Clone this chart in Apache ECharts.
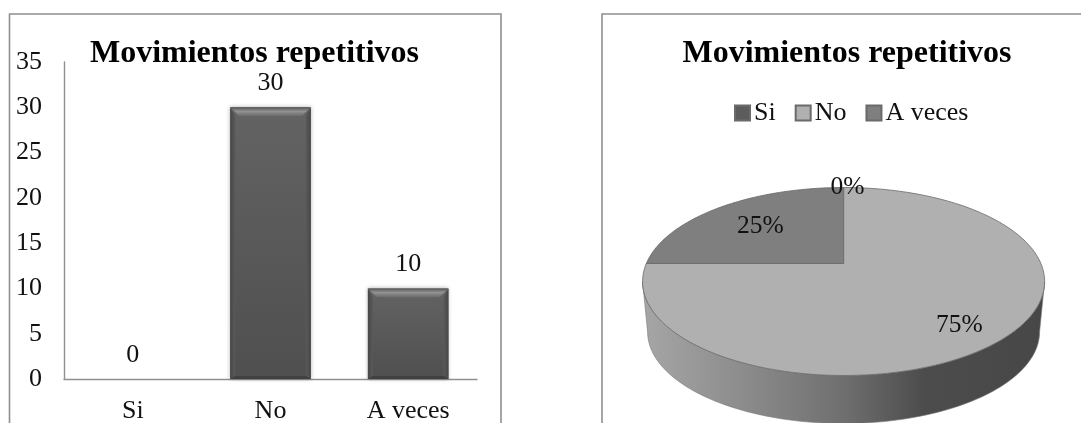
<!DOCTYPE html>
<html>
<head>
<meta charset="utf-8">
<style>html,body{margin:0;padding:0;background:#fff}#chart{width:1081px;height:423px}</style>
<script src="https://cdn.jsdelivr.net/npm/echarts@6/dist/echarts.min.js"></script>
</head>
<body>
<div id="chart"></div>
<script>
// Survey answers on repetitive movements
const chartTitle = 'Movimientos repetitivos';
const categories = ['Si', 'No', 'A veces'];
const answerCounts = [0, 30, 10];
const axisTicks = { min: 0, max: 35, interval: 5 };
const sliceColors = ['#5c5c5c', '#b0b0b0', '#7f7f7f'];

const FONT = '"Liberation Serif","Times New Roman",serif';
const FRAME = '#8f8f8f';
const BAR_SHARE = 0.585;
const total = answerCounts.reduce((a, b) => a + b, 0);

// Tilted pie: a unit circle seen in perspective, centred on the slice hub
const PIE = { cx: 843.6, cy: 263.5, rx: 197.3, ry: 90.55, k: -0.1915,
              wallScale: 0.975, wallDrop: 50.8 };
function piePoint(deg, r, wall) {
  const a = deg * Math.PI / 180, u = r * Math.sin(a), v = r * Math.cos(a);
  const d = 1 - PIE.k * v, s = wall ? PIE.wallScale : 1;
  return [PIE.cx + s * PIE.rx * u / d,
          PIE.cy - s * PIE.ry * v / d + (wall ? PIE.wallDrop : 0)];
}
function arc(from, to, wall) {
  const pts = [], n = Math.max(2, Math.ceil(Math.abs(to - from) / 1.5));
  for (let i = 0; i <= n; i++) pts.push(piePoint(from + (to - from) * i / n, 1, wall));
  return pts;
}
// Placement of each percentage: share of the pie radius, then a small nudge
const labelRadius = [1, 0.78, 0.64];
const labelNudge = [[4, 0], [-6, 6], [-1, 1]];

function sliceSeries(idx) {
  const before = answerCounts.slice(0, idx).reduce((a, b) => a + b, 0);
  const start = before / total * 360, end = (before + answerCounts[idx]) / total * 360;
  return {
    type: 'custom', name: categories[idx], coordinateSystem: 'none', silent: true,
    itemStyle: { color: sliceColors[idx], borderColor: '#6a6a6a', borderWidth: 1.2 },
    data: [answerCounts[idx]], z: 3,
    renderItem() {
      const children = [];
      if (start <= 180 && end >= 180) {
        const wallTop = arc(101, 259, false), wallBottom = arc(259, 101, true);
        children.push({ type: 'polygon', shape: { points: wallTop.concat(wallBottom) },
          style: { stroke: '#777', lineWidth: 0.6,
            fill: new echarts.graphic.LinearGradient(0, 0, 1, 0, [
              { offset: 0, color: '#a6a6a6' }, { offset: 0.25, color: '#8c8c8c' },
              { offset: 0.5, color: '#6f6f6f' }, { offset: 0.7, color: '#4c4c4c' },
              { offset: 1, color: '#474747' }]) } });
      }
      if (end > start) {
        children.push({ type: 'polygon',
          shape: { points: [[PIE.cx, PIE.cy]].concat(arc(start, end, false)) },
          style: { fill: sliceColors[idx], stroke: '#6a6a6a', lineWidth: 0.8 } });
      }
      const p = piePoint((start + end) / 2, labelRadius[idx], false);
      children.push({ type: 'text', z2: 10, x: p[0] + labelNudge[idx][0], y: p[1] + labelNudge[idx][1],
        style: { text: Math.round(answerCounts[idx] / total * 100) + '%', font: '25.5px ' + FONT,
                 fill: '#111', align: 'center', verticalAlign: 'middle' } });
      return { type: 'group', children };
    }
  };
}

// Bevelled highlights laid over the bars
function bevelItem(params, api) {
  const value = api.value(1);
  if (!value) return null;
  const top = api.coord([api.value(0), value]), base = api.coord([api.value(0), 0]);
  const w = api.size([1, 0])[0] * BAR_SHARE, l = top[0] - w / 2, r = top[0] + w / 2;
  const b = 9, s = 5, t = top[1], y0 = base[1];
  return { type: 'group', children: [
    { type: 'polygon', shape: { points: [[l, t], [l + s, t + b], [l + s, y0 - 3], [l, y0]] },
      style: { fill: new echarts.graphic.LinearGradient(0, 0, 1, 0, [
        { offset: 0, color: '#474747' }, { offset: 1, color: '#5a5a5a' }]) } },
    { type: 'polygon', shape: { points: [[r, t], [r - s, t + b], [r - s, y0 - 3], [r, y0]] },
      style: { fill: new echarts.graphic.LinearGradient(1, 0, 0, 0, [
        { offset: 0, color: '#474747' }, { offset: 1, color: '#5a5a5a' }]) } },
    { type: 'polygon', shape: { points: [[l, t], [r, t], [r - b, t + b], [l + b, t + b]] },
      style: { fill: new echarts.graphic.LinearGradient(0, 0, 0, 1, [
        { offset: 0, color: '#555555' }, { offset: 0.45, color: '#929292' }, { offset: 1, color: '#686868' }]) } },
    { type: 'polygon', shape: { points: [[l, y0], [r, y0], [r - s, y0 - 3], [l + s, y0 - 3]] },
      style: { fill: '#404040' } }
  ] };
}

const titleStyle = { fontFamily: FONT, fontWeight: 'bold', fontSize: 32, color: '#000' };
const chart = echarts.init(document.getElementById('chart'), null, { renderer: 'canvas' });
chart.setOption({
  animation: false,
  backgroundColor: '#fff',
  graphic: [
    { type: 'rect', silent: true, z: -1, shape: { x: 9.5, y: 14, width: 491.5, height: 430 },
      style: { fill: 'none', stroke: FRAME, lineWidth: 1.6 } },
    { type: 'rect', silent: true, z: -1, shape: { x: 602, y: 14, width: 500, height: 430 },
      style: { fill: 'none', stroke: FRAME, lineWidth: 1.6 } }
  ],
  title: [
    { text: chartTitle, left: 254.5, top: 38, padding: 0, textAlign: 'center', textStyle: titleStyle },
    { text: chartTitle, left: 847, top: 38, padding: 0, textAlign: 'center', textStyle: titleStyle }
  ],
  legend: {
    data: categories, left: 734, top: 100, icon: 'rect', itemWidth: 15, itemHeight: 15,
    itemGap: 19, selectedMode: false, padding: 0,
    textStyle: { fontFamily: FONT, fontSize: 26, color: '#111', padding: [0, 0, 0, -1] }
  },
  grid: { left: 64, top: 62, width: 413, height: 317, outerBoundsMode: 'none' },
  xAxis: {
    type: 'category', data: categories,
    axisLine: { lineStyle: { color: FRAME, width: 1.4 } }, axisTick: { show: false },
    axisLabel: { fontFamily: FONT, fontSize: 26, color: '#111', margin: 19.5 }
  },
  yAxis: {
    type: 'value', min: axisTicks.min, max: axisTicks.max, interval: axisTicks.interval,
    splitLine: { show: false }, axisTick: { show: false },
    axisLine: { show: true, lineStyle: { color: FRAME, width: 1.4 } },
    axisLabel: { fontFamily: FONT, fontSize: 26, color: '#111', margin: 22 }
  },
  series: [
    { type: 'bar', name: 'Respuestas', data: answerCounts, barWidth: (BAR_SHARE * 100) + '%', silent: true,
      itemStyle: { color: new echarts.graphic.LinearGradient(0, 0, 0, 1, [
          { offset: 0, color: '#636363' }, { offset: 1, color: '#4f4f4f' }]),
        shadowBlur: 4, shadowColor: 'rgba(0,0,0,0.3)' },
      label: { show: true, position: 'top', distance: 11, fontFamily: FONT, fontSize: 26, color: '#111' } },
    { type: 'custom', name: 'Biseles', silent: true, z: 3, coordinateSystem: 'cartesian2d',
      renderItem: bevelItem, encode: { x: 0, y: 1 },
      data: answerCounts.map((v, i) => [i, v]) },
    sliceSeries(0), sliceSeries(1), sliceSeries(2)
  ]
});
</script>
</body>
</html>
